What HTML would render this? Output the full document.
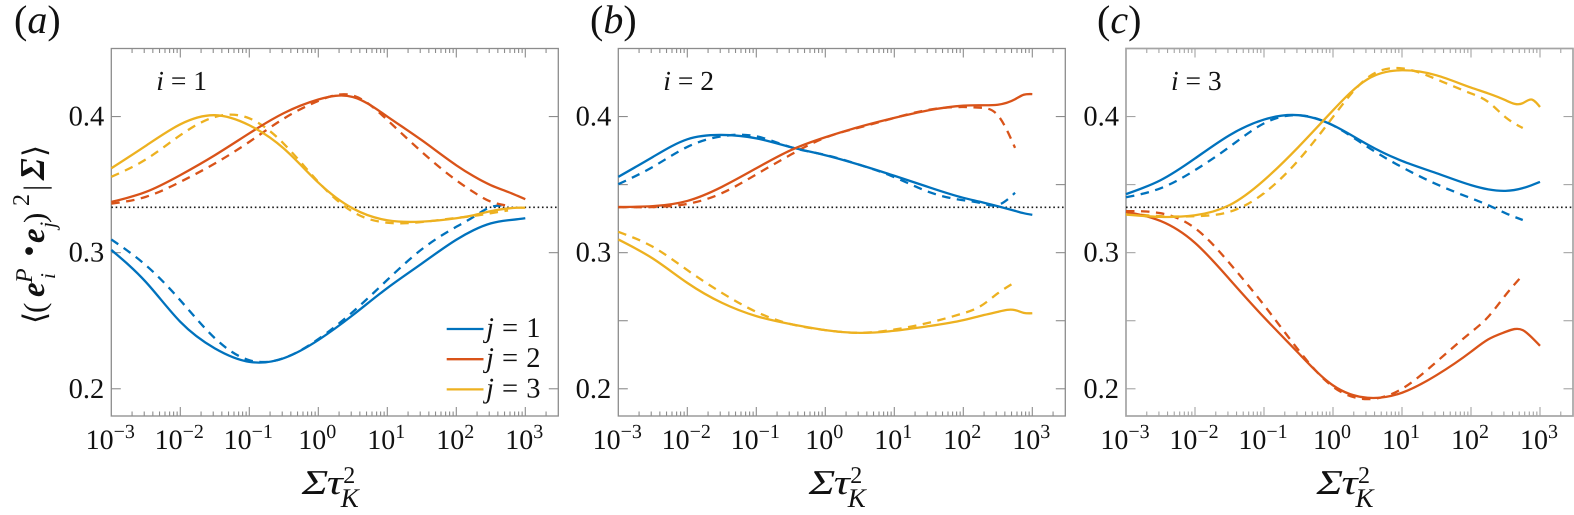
<!DOCTYPE html>
<html lang="en">
<head>
<meta charset="utf-8">
<title>Alignment of eigenvectors versus Sigma tau squared</title>
<style>
html,body{margin:0;padding:0;background:#fff;width:1574px;height:515px;overflow:hidden}
svg{display:block}
text{font-family:"Liberation Serif","DejaVu Serif",serif;fill:#111;text-rendering:geometricPrecision}
</style>
</head>
<body>
<svg id="chart" width="1574" height="515" viewBox="0 0 1574 515" xmlns="http://www.w3.org/2000/svg">
  <g>
    <text transform="translate(45,324) rotate(-90)" font-size="31">⟨</text>
    <text transform="translate(45,313) rotate(-90)" font-size="31">(</text>
    <text transform="translate(44,297) rotate(-90)" font-size="33" font-weight="bold" font-style="italic">e</text>
    <text transform="translate(32,283) rotate(-90)" font-size="24" font-style="italic">P</text>
    <text transform="translate(55,279) rotate(-90)" font-size="21" font-style="italic">i</text>
    <text transform="translate(45,259) rotate(-90)" font-size="48" font-weight="bold">·</text>
    <text transform="translate(44,243) rotate(-90)" font-size="33" font-weight="bold" font-style="italic">e</text>
    <text transform="translate(55,228) rotate(-90)" font-size="22" font-style="italic">j</text>
    <text transform="translate(45,223) rotate(-90)" font-size="31">)</text>
    <text transform="translate(29,206) rotate(-90)" font-size="24">2</text>
    <text transform="translate(45,191) rotate(-90)" font-size="31">|</text>
    <text transform="translate(44,180) rotate(-90)" font-size="35" font-weight="bold" font-style="italic">Σ</text>
    <text transform="translate(45,157) rotate(-90)" font-size="31">⟩</text>
  </g>
</svg>
<script>
// ---- shared axes ----
var logSigmaTau = [-3,-2.5,-2,-1.5,-1,-0.5,0,0.5,1,1.5,2,2.25,2.5,2.75,2.875,3];
var xTickExponents = ['−3','−2','−1','0','1','2','3'];
var xTickLogs = [-3,-2,-1,0,1,2,3];
var yTickLabels = ['0.2','0.3','0.4'];
var isotropicValue = 1/3;
var panelLetters = ['a','b','c'];
var panelRows = ['1','2','3'];
var legendLabels = ['1','2','3'];

// ---- panel a (i = 1) ----
var aSolidJ1 = [.302,.2785,.2492,.2297,.2198,.2225,.2358,.2541,.274,.292,.3095,.3165,.3215,.3238,.3245,.3253];
var aSolidJ2 = [.3373,.3446,.357,.3716,.3877,.4025,.4125,.4144,.400,.3826,.3642,.3562,.3496,.3446,.342,.3393];
var aSolidJ3 = [.362,.3785,.3943,.401,.3936,.3765,.3515,.3325,.3238,.3228,.3253,.3275,.3305,.3325,.333,.333];
var aDashJ1 = [.3097,.2908,.265,.2372,.221,.2225,.2365,.2565,.28,.3025,.319,.3263,.3335,.3345];
var aDashJ2 = [.336,.341,.352,.3655,.3814,.3985,.4115,.4155,.3975,.374,.3532,.3445,.3375,.3345];
var aDashJ3 = [.3557,.3685,.3863,.3997,.3987,.380,.352,.330,.322,.3225,.3255,.327,.329,.331];

// ---- panel b (i = 2) ----
var bSolidJ1 = [.3557,.3703,.3833,.3865,.384,.3775,.3716,.3645,.3565,.3481,.3403,.3373,.3341,.3307,.329,.3278];
var bSolidJ2 = [.3335,.3342,.338,.3483,.362,.3753,.3848,.3925,.399,.4046,.408,.4083,.4087,.4127,.416,.4165];
var bSolidJ3 = [.3097,.2957,.2778,.2632,.2534,.2475,.2431,.2411,.2426,.246,.2504,.2536,.2565,.2578,.2558,.2555];
var bDashJ1 = [.3503,.363,.3777,.3855,.3855,.3775,.3718,.3645,.3555,.3446,.3385,.3365,.335,.344];
var bDashJ2 = [.3335,.3335,.3358,.3437,.3575,.372,.3845,.392,.399,.405,.407,.4065,.401,.377];
var bDashJ3 = [.3153,.3043,.2872,.2705,.2565,.2475,.2431,.2411,.2435,.2485,.2555,.2607,.2701,.2783];

// ---- panel c (i = 3) ----
var cSolidJ1 = [.343,.3532,.3692,.3863,.3978,.401,.3936,.3795,.3674,.3584,.3496,.3465,.3454,.3474,.3495,.352];
var cSolidJ2 = [.33,.3233,.3072,.2805,.2525,.2262,.2025,.1934,.1971,.21,.2272,.2363,.2418,.2431,.238,.2316];
var cSolidJ3 = [.328,.3263,.3275,.3349,.3532,.3777,.4046,.4274,.434,.4303,.4213,.417,.412,.4098,.4125,.407];
var cDashJ1 = [.3407,.3473,.3606,.3777,.395,.401,.3935,.3777,.3628,.3503,.34,.3349,.329,.324];
var cDashJ2 = [.3305,.329,.318,.2923,.2615,.2284,.2015,.1924,.2,.2198,.2415,.2529,.2688,.2835];
var cDashJ3 = [.329,.3268,.3268,.33,.3437,.368,.3997,.4285,.4354,.4274,.417,.4107,.3995,.3916];

(function () {
  var NS = 'http://www.w3.org/2000/svg';
  var svg = document.getElementById('chart');
  var colors = ['#0072BD', '#D95319', '#EDB120'];
  var panelSeries = [
    { solid: [aSolidJ1, aSolidJ2, aSolidJ3], dash: [aDashJ1, aDashJ2, aDashJ3] },
    { solid: [bSolidJ1, bSolidJ2, bSolidJ3], dash: [bDashJ1, bDashJ2, bDashJ3] },
    { solid: [cSolidJ1, cSolidJ2, cSolidJ3], dash: [cDashJ1, cDashJ2, cDashJ3] }
  ];
  var panelLeft = [111.3, 618.3, 1126];
  var panelLabelX = [14, 590, 1097];
  var decade = 69;
  var yTop = 48.5, yBottom = 416;
  var yMin = 0.18, yMax = 0.45;
  var plotWidth = 447;

  function xPos(p, lg) { return panelLeft[p] + (lg + 3) * decade; }
  function yPos(v) { return yBottom - (v - yMin) / (yMax - yMin) * (yBottom - yTop); }

  function setAttrs(el, attrs) {
    for (var k in attrs) { el.setAttribute(k, attrs[k]); }
    return el;
  }
  function create(tag, parent, attrs) {
    var el = document.createElementNS(NS, tag);
    setAttrs(el, attrs);
    parent.appendChild(el);
    return el;
  }
  // C2 cubic spline through the data points, emitted as Bezier segments
  function curvePath(p, values) {
    var xs = [], ys = [], i, n = values.length;
    for (i = 0; i < n; i++) {
      xs.push(xPos(p, logSigmaTau[i]));
      ys.push(yPos(values[i]));
    }
    var h = [], del = [];
    for (i = 0; i < n - 1; i++) {
      h.push(xs[i + 1] - xs[i]);
      del.push((ys[i + 1] - ys[i]) / h[i]);
    }
    var a = [], b = [], c = [], r = [];
    a[0] = 0; b[0] = 2; c[0] = 1; r[0] = 3 * del[0];
    for (i = 1; i < n - 1; i++) {
      a[i] = h[i];
      b[i] = 2 * (h[i - 1] + h[i]);
      c[i] = h[i - 1];
      r[i] = 3 * (h[i] * del[i - 1] + h[i - 1] * del[i]);
    }
    a[n - 1] = 1; b[n - 1] = 2; c[n - 1] = 0; r[n - 1] = 3 * del[n - 2];
    for (i = 1; i < n; i++) {
      var w = a[i] / b[i - 1];
      b[i] -= w * c[i - 1];
      r[i] -= w * r[i - 1];
    }
    var slope = [];
    slope[n - 1] = r[n - 1] / b[n - 1];
    for (i = n - 2; i >= 0; i--) {
      slope[i] = (r[i] - c[i] * slope[i + 1]) / b[i];
    }
    var d = 'M' + xs[0].toFixed(2) + ' ' + ys[0].toFixed(2);
    for (i = 0; i < n - 1; i++) {
      var t = h[i] / 3;
      d += 'C' + (xs[i] + t).toFixed(2) + ' ' + (ys[i] + slope[i] * t).toFixed(2) + ' ' +
        (xs[i + 1] - t).toFixed(2) + ' ' + (ys[i + 1] - slope[i + 1] * t).toFixed(2) + ' ' +
        xs[i + 1].toFixed(2) + ' ' + ys[i + 1].toFixed(2);
    }
    return d;
  }

  panelLetters.forEach(function (letter, p) {
    var g = create('g', svg, {});
    
    

    var left = panelLeft[p], right = left + plotWidth;
    var axisColor = p === 2 ? '#a4a4a4' : '#8c8c8c';
    var axisWidth = p === 2 ? 1.7 : 1.3;

    // panel letter
    var title = create('text', g, { x: panelLabelX[p], y: 33, 'font-size': 40 });
    
    
    title.appendChild(document.createTextNode('('));
    var tl = create('tspan', title, { 'font-style': 'italic' });
    tl.textContent = letter;
    title.appendChild(document.createTextNode(')'));

    // row annotation
    var ann = create('text', g, { x: left + 45, y: 90, 'font-size': 27.5 });
    
    
    var annI = create('tspan', ann, { 'font-style': 'italic' });
    annI.textContent = 'i';
    ann.appendChild(document.createTextNode(' = ' + panelRows[p]));

    // frame
    var frame = create('rect', g, { x: left, y: yTop, width: plotWidth, height: yBottom - yTop, fill: 'none', stroke: axisColor, 'stroke-width': axisWidth });
    
    

    // x ticks
    var xt = create('g', g, { stroke: axisColor, 'stroke-width': 1.1 });
    
    
    for (var dec = -3; dec <= 3; dec++) {
      for (var m = 1; m <= 9; m++) {
        var lg = dec + Math.log10(m);
        var px = xPos(p, lg);
        if (px >= right - 1) { continue; }
        var len = m === 1 ? 9 : 4.5;
        if (dec === -3 && m === 1) { continue; }
        var tb = create('line', xt, { x1: px, x2: px, y1: yBottom, y2: yBottom - len });
        
        
        var tt = create('line', xt, { x1: px, x2: px, y1: yTop, y2: yTop + len });
        
        
      }
    }
    // x tick labels
    xTickExponents.forEach(function (exp, k) {
      var t = create('text', g, { x: xPos(p, xTickLogs[k]) - 1, y: 449, 'font-size': 28, 'text-anchor': 'middle' });
      
      
      var base = create('tspan', t, {});
      base.textContent = '10';
      var sup = create('tspan', t, { dy: -11, 'font-size': 20 });
      sup.textContent = exp;
    });

    // y ticks
    var ytg = create('g', g, { stroke: axisColor, 'stroke-width': 1.1 });
    
    
    var yStep = p === 0 ? 0.1 : 0.05;
    for (var v = 0.2; v < 0.449; v += yStep) {
      var yy = yPos(v);
      var tl1 = create('line', ytg, { x1: left, x2: left + 9.5, y1: yy, y2: yy });
      
      
      var tr1 = create('line', ytg, { x1: right, x2: right - 9.5, y1: yy, y2: yy });
      
      
    }
    // y tick labels
    yTickLabels.forEach(function (lab) {
      var t = create('text', g, { x: left - 7, y: yPos(parseFloat(lab)) + 9, 'font-size': 28.5, 'text-anchor': 'end' });
      
      
      t.textContent = lab;
    });

    // isotropic reference
    var ref = create('line', g, { x1: xPos(p, -3), x2: right, y1: yPos(isotropicValue), y2: yPos(isotropicValue), stroke: '#1a1a1a', 'stroke-width': 1.7, 'stroke-dasharray': '1.6 2.75' });
    
    

    // series
    var s = panelSeries[p];
    [0, 1, 2].forEach(function (j) {
      var dash = create('path', g, { d: curvePath(p, s.dash[j]), fill: 'none', stroke: colors[j], 'stroke-width': 2.3, 'stroke-dasharray': '8.5 6.5' });
      
      
    });
    [0, 1, 2].forEach(function (j) {
      var solid = create('path', g, { d: curvePath(p, s.solid[j]), fill: 'none', stroke: colors[j], 'stroke-width': 2.3 });
      
      
    });

    // x axis title
    var xTitle = create('g', g, {});
    
    
    var xMain = create('text', xTitle, { x: left + 190.5, y: 494, 'font-size': 35, 'font-style': 'italic', textLength: 41, lengthAdjust: 'spacingAndGlyphs' });
    
    
    xMain.textContent = 'Στ';
    var xSup = create('text', xTitle, { x: left + 232, y: 483, 'font-size': 24 });
    
    
    xSup.textContent = '2';
    var xSub = create('text', xTitle, { x: left + 229.5, y: 507, 'font-size': 27, 'font-style': 'italic' });
    
    
    xSub.textContent = 'K';
  });

  // legend (panel a)
  var legend = create('g', svg, {});
  
  
  legendLabels.forEach(function (lab, j) {
    var entry = create('g', legend, {});
    
    
    var ly = 329 + j * 30.2;
    var sw = create('line', entry, { x1: 446.7, x2: 483.5, y1: ly, y2: ly, stroke: colors[j], 'stroke-width': 2.3 });
    
    
    var t = create('text', entry, { x: 486, y: ly + 8, 'font-size': 28.5, 'word-spacing': 1 });
    
    
    var jj = create('tspan', t, { 'font-style': 'italic' });
    jj.textContent = 'j';
    t.appendChild(document.createTextNode(' = ' + lab));
  });
})();
</script>
</body>
</html>
